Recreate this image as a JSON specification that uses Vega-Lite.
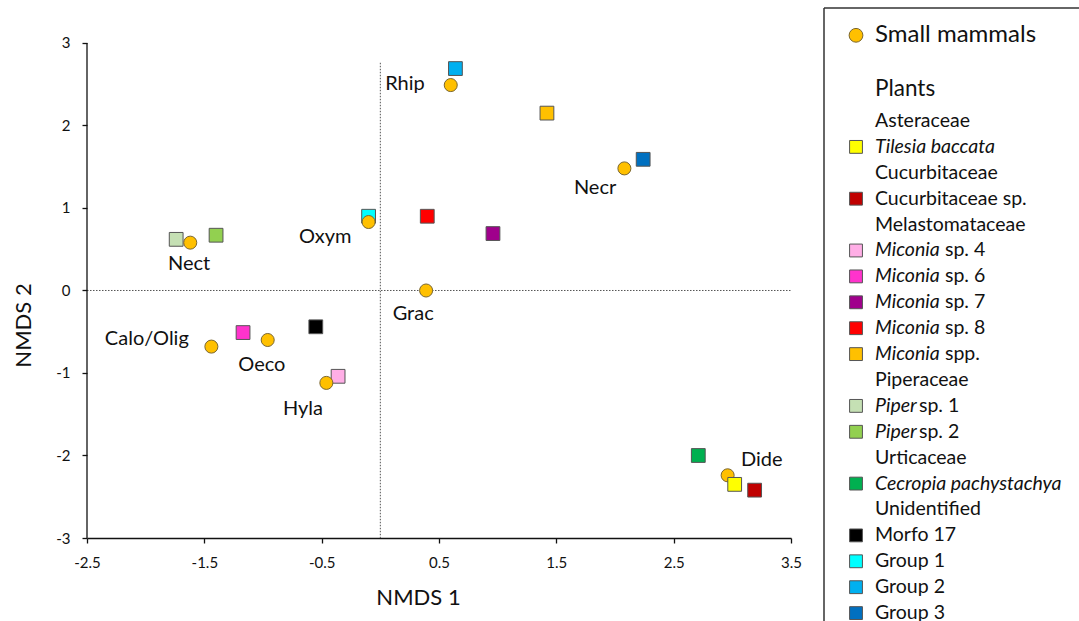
{
  "$schema": "https://vega.github.io/schema/vega-lite/v6.json",
  "padding": {"left": 12, "top": 7, "right": 0, "bottom": 0},
  "background": "white",
  "spacing": 21,
  "config": {"font": "Lato", "view": {"stroke": null}, "axis": {"grid": false}},
  "datasets": {
    "points": [
      {"name": "Group 1", "type": "Plants", "x": -0.10, "y": 0.90},
      {"name": "Miconia sp. 4", "type": "Plants", "x": -0.36, "y": -1.04},
      {"name": "Cucurbitaceae sp.", "type": "Plants", "x": 3.19, "y": -2.42},
      {"name": "Miconia sp. 6", "type": "Plants", "x": -1.17, "y": -0.51},
      {"name": "Miconia sp. 7", "type": "Plants", "x": 0.96, "y": 0.69},
      {"name": "Miconia sp. 8", "type": "Plants", "x": 0.40, "y": 0.90},
      {"name": "Miconia spp.", "type": "Plants", "x": 1.42, "y": 2.15},
      {"name": "Piper sp. 1", "type": "Plants", "x": -1.74, "y": 0.62},
      {"name": "Piper sp. 2", "type": "Plants", "x": -1.40, "y": 0.67},
      {"name": "Cecropia pachystachya", "type": "Plants", "x": 2.71, "y": -2.00},
      {"name": "Morfo 17", "type": "Plants", "x": -0.55, "y": -0.44},
      {"name": "Group 2", "type": "Plants", "x": 0.64, "y": 2.69},
      {"name": "Group 3", "type": "Plants", "x": 2.24, "y": 1.59},
      {"name": "Small mammals", "type": "Small mammals", "taxon": "Rhip", "x": 0.60, "y": 2.49},
      {"name": "Small mammals", "type": "Small mammals", "taxon": "Necr", "x": 2.08, "y": 1.48},
      {"name": "Small mammals", "type": "Small mammals", "taxon": "Oxym", "x": -0.10, "y": 0.83},
      {"name": "Small mammals", "type": "Small mammals", "taxon": "Nect", "x": -1.62, "y": 0.58},
      {"name": "Small mammals", "type": "Small mammals", "taxon": "Grac", "x": 0.39, "y": 0.0},
      {"name": "Small mammals", "type": "Small mammals", "taxon": "Calo/Olig", "x": -1.44, "y": -0.68},
      {"name": "Small mammals", "type": "Small mammals", "taxon": "Oeco", "x": -0.96, "y": -0.60},
      {"name": "Small mammals", "type": "Small mammals", "taxon": "Hyla", "x": -0.46, "y": -1.12},
      {"name": "Small mammals", "type": "Small mammals", "taxon": "Dide", "x": 2.96, "y": -2.24},
      {"name": "Tilesia baccata", "type": "Plants", "x": 3.02, "y": -2.35}
    ],
    "labels": [
      {"label": "Rhip", "lx": 0.21, "ly": 2.50},
      {"label": "Necr", "lx": 1.83, "ly": 1.24},
      {"label": "Oxym", "lx": -0.47, "ly": 0.65},
      {"label": "Nect", "lx": -1.63, "ly": 0.32},
      {"label": "Grac", "lx": 0.28, "ly": -0.29},
      {"label": "Calo/Olig", "lx": -1.99, "ly": -0.59},
      {"label": "Oeco", "lx": -1.01, "ly": -0.90},
      {"label": "Hyla", "lx": -0.66, "ly": -1.44},
      {"label": "Dide", "lx": 3.25, "ly": -2.06}
    ],
    "legend": [
      {"row": 0, "kind": "mammal", "name": "Small mammals", "type": "Small mammals", "text": "Small mammals"},
      {"row": 2, "kind": "plants", "text": "Plants"},
      {"row": 3, "kind": "family", "text": "Asteraceae"},
      {"row": 4, "kind": "item", "name": "Tilesia baccata", "type": "Plants", "ital": "Tilesia baccata"},
      {"row": 5, "kind": "family", "text": "Cucurbitaceae"},
      {"row": 6, "kind": "item", "name": "Cucurbitaceae sp.", "type": "Plants", "text": "Cucurbitaceae sp."},
      {"row": 7, "kind": "family", "text": "Melastomataceae"},
      {"row": 8, "kind": "item", "name": "Miconia sp. 4", "type": "Plants", "ital": "Miconia", "suf": "sp. 4", "genus": "Miconia"},
      {"row": 9, "kind": "item", "name": "Miconia sp. 6", "type": "Plants", "ital": "Miconia", "suf": "sp. 6", "genus": "Miconia"},
      {"row": 10, "kind": "item", "name": "Miconia sp. 7", "type": "Plants", "ital": "Miconia", "suf": "sp. 7", "genus": "Miconia"},
      {"row": 11, "kind": "item", "name": "Miconia sp. 8", "type": "Plants", "ital": "Miconia", "suf": "sp. 8", "genus": "Miconia"},
      {"row": 12, "kind": "item", "name": "Miconia spp.", "type": "Plants", "ital": "Miconia", "suf": "spp.", "genus": "Miconia"},
      {"row": 13, "kind": "family", "text": "Piperaceae"},
      {"row": 14, "kind": "item", "name": "Piper sp. 1", "type": "Plants", "ital": "Piper", "suf": "sp. 1", "genus": "Piper"},
      {"row": 15, "kind": "item", "name": "Piper sp. 2", "type": "Plants", "ital": "Piper", "suf": "sp. 2", "genus": "Piper"},
      {"row": 16, "kind": "family", "text": "Urticaceae"},
      {"row": 17, "kind": "item", "name": "Cecropia pachystachya", "type": "Plants", "ital": "Cecropia pachystachya"},
      {"row": 18, "kind": "family", "text": "Unidentified"},
      {"row": 19, "kind": "item", "name": "Morfo 17", "type": "Plants", "text": "Morfo 17"},
      {"row": 20, "kind": "item", "name": "Group 1", "type": "Plants", "text": "Group 1"},
      {"row": 21, "kind": "item", "name": "Group 2", "type": "Plants", "text": "Group 2"},
      {"row": 22, "kind": "item", "name": "Group 3", "type": "Plants", "text": "Group 3"}
    ]
  },
  "hconcat": [
    {
      "width": 704,
      "height": 530,
      "layer": [
        {
          "data": {"values": [{}]},
          "mark": {"type": "rule", "color": "#555", "strokeDash": [1.5, 1.5], "strokeWidth": 1},
          "encoding": {"x": {"datum": 0}, "y": {"datum": 2.76}, "y2": {"datum": -3}}
        },
        {
          "data": {"values": [{}]},
          "mark": {"type": "rule", "color": "#555", "strokeDash": [1.5, 1.5], "strokeWidth": 1},
          "encoding": {"x": {"datum": -2.5}, "x2": {"datum": 3.5}, "y": {"datum": 0}}
        },
        {
          "data": {"values": [{}]},
          "mark": {"type": "rule", "color": "#111", "strokeWidth": 1.3},
          "encoding": {"x": {"datum": -2.5}, "y": {"datum": -3}, "y2": {"datum": 3}}
        },
        {
          "data": {"name": "points"},
          "mark": {"type": "point", "filled": true, "opacity": 1, "strokeWidth": 1},
          "encoding": {
            "x": {"field": "x", "type": "quantitative",
              "scale": {"domain": [-2.5, 3.5], "nice": false, "zero": false},
              "axis": {"title": "NMDS 1", "values": [-2.5, -1.5, -0.5, 0.5, 1.5, 2.5, 3.5], "labelExpr": "'' + datum.value",
                "labelFlush": false, "tickSize": 5, "tickColor": "#111", "domainColor": "#111", "domainWidth": 1.3, "tickWidth": 1.3,
                "labelFontSize": 15, "labelColor": "#111", "labelPadding": 12,
                "titleFontSize": 22, "titleFontWeight": "normal", "titleColor": "#111", "titlePadding": 17, "titleX": 331}},
            "y": {"field": "y", "type": "quantitative",
              "scale": {"domain": [-3, 3.4242], "nice": false, "zero": false},
              "axis": {"title": "NMDS 2", "values": [-3, -2, -1, 0, 1, 2, 3], "labelExpr": "'' + datum.value", "domain": false,
                "labelFlush": false, "tickSize": 5, "tickColor": "#111", "tickWidth": 1.3,
                "labelFontSize": 15, "labelColor": "#111", "labelPadding": 12,
                "titleFontSize": 22, "titleFontWeight": "normal", "titleColor": "#111", "titlePadding": 20, "titleY": 317}},
            "color": {"field": "name", "type": "nominal", "legend": null,
              "scale": {"domain": ["Small mammals", "Tilesia baccata", "Cucurbitaceae sp.", "Miconia sp. 4", "Miconia sp. 6", "Miconia sp. 7", "Miconia sp. 8", "Miconia spp.", "Piper sp. 1", "Piper sp. 2", "Cecropia pachystachya", "Morfo 17", "Group 1", "Group 2", "Group 3"],
                "range": ["#FFC000", "#FFFF00", "#C00000", "#FFAEE6", "#FF33CC", "#A0008C", "#FF0000", "#FFC000", "#C5E0B4", "#92D050", "#00B050", "#000000", "#00FFFF", "#00B0F0", "#0070C0"]}},
            "shape": {"field": "type", "type": "nominal", "legend": null,
              "scale": {"domain": ["Small mammals", "Plants"], "range": ["circle", "square"]}},
            "size": {"field": "type", "type": "nominal", "legend": null,
              "scale": {"domain": ["Small mammals", "Plants"], "range": [170, 190]}},
            "stroke": {"field": "type", "type": "nominal", "legend": null,
              "scale": {"domain": ["Small mammals", "Plants"], "range": ["#7a6630", "#555555"]}}
          }
        },
        {
          "data": {"name": "labels"},
          "mark": {"type": "text", "fontSize": 20, "color": "#111", "align": "center", "baseline": "middle"},
          "encoding": {
            "x": {"field": "lx", "type": "quantitative"},
            "y": {"field": "ly", "type": "quantitative"},
            "text": {"field": "label"}
          }
        }
      ]
    },
    {
      "width": 255,
      "height": 614,
      "layer": [
        {
          "data": {"values": [{}]},
          "mark": {"type": "rule", "color": "#333", "strokeWidth": 1.5},
          "encoding": {
            "x": {"datum": 0, "scale": {"domain": [0, 10], "nice": false, "zero": false}, "axis": null},
            "x2": {"datum": 10},
            "y": {"datum": -1.363, "scale": {"domain": [-1.363, 22.344], "reverse": true, "nice": false, "zero": false}, "axis": null}
          }
        },
        {
          "data": {"values": [{}]},
          "mark": {"type": "rule", "color": "#333", "strokeWidth": 1.5},
          "encoding": {"x": {"datum": 0}, "y": {"datum": -1.363}, "y2": {"datum": 22.344}}
        },
        {
          "data": {"name": "legend"},
          "transform": [{"filter": "datum.kind == 'mammal'"}],
          "mark": {"type": "point", "filled": true, "opacity": 1, "strokeWidth": 1},
          "encoding": {
            "x": {"datum": 1.255},
            "y": {"field": "row", "type": "quantitative"},
            "yOffset": {"value": -8},
            "color": {"field": "name", "type": "nominal", "legend": null},
            "shape": {"field": "type", "type": "nominal", "legend": null},
            "stroke": {"field": "type", "type": "nominal", "legend": null},
            "size": {"value": 190}
          }
        },
        {
          "data": {"name": "legend"},
          "transform": [{"filter": "datum.kind == 'item'"}],
          "mark": {"type": "point", "filled": true, "opacity": 1, "strokeWidth": 1},
          "encoding": {
            "x": {"datum": 1.255},
            "y": {"field": "row", "type": "quantitative"},
            "color": {"field": "name", "type": "nominal", "legend": null},
            "shape": {"field": "type", "type": "nominal", "legend": null},
            "stroke": {"field": "type", "type": "nominal", "legend": null},
            "size": {"value": 165}
          }
        },
        {
          "data": {"name": "legend"},
          "transform": [{"filter": "datum.kind == 'mammal'"}],
          "mark": {"type": "text", "fontSize": 24, "color": "#111", "align": "left", "baseline": "middle", "dy": -8},
          "encoding": {"x": {"datum": 2.0}, "y": {"field": "row", "type": "quantitative"}, "text": {"field": "text"}}
        },
        {
          "data": {"name": "legend"},
          "transform": [{"filter": "datum.kind == 'plants'"}],
          "mark": {"type": "text", "fontSize": 22.5, "color": "#111", "align": "left", "baseline": "middle", "dy": -6},
          "encoding": {"x": {"datum": 2.0}, "y": {"field": "row", "type": "quantitative"}, "text": {"field": "text"}}
        },
        {
          "data": {"name": "legend"},
          "transform": [{"filter": "(datum.kind == 'family' || datum.kind == 'item') && isValid(datum.text)"}],
          "mark": {"type": "text", "fontSize": 19.5, "color": "#111", "align": "left", "baseline": "middle"},
          "encoding": {"x": {"datum": 2.0}, "y": {"field": "row", "type": "quantitative"}, "text": {"field": "text"}}
        },
        {
          "data": {"name": "legend"},
          "transform": [{"filter": "isValid(datum.ital)"}],
          "mark": {"type": "text", "fontSize": 19.5, "fontStyle": "italic", "color": "#111", "align": "left", "baseline": "middle"},
          "encoding": {"x": {"datum": 2.0}, "y": {"field": "row", "type": "quantitative"}, "text": {"field": "ital"}}
        },
        {
          "data": {"name": "legend"},
          "transform": [{"filter": "datum.genus == 'Miconia'"}],
          "mark": {"type": "text", "fontSize": 19.5, "color": "#111", "align": "left", "baseline": "middle", "dx": 70},
          "encoding": {"x": {"datum": 2.0}, "y": {"field": "row", "type": "quantitative"}, "text": {"field": "suf"}}
        },
        {
          "data": {"name": "legend"},
          "transform": [{"filter": "datum.genus == 'Piper'"}],
          "mark": {"type": "text", "fontSize": 19.5, "color": "#111", "align": "left", "baseline": "middle", "dx": 44},
          "encoding": {"x": {"datum": 2.0}, "y": {"field": "row", "type": "quantitative"}, "text": {"field": "suf"}}
        }
      ]
    }
  ]
}
